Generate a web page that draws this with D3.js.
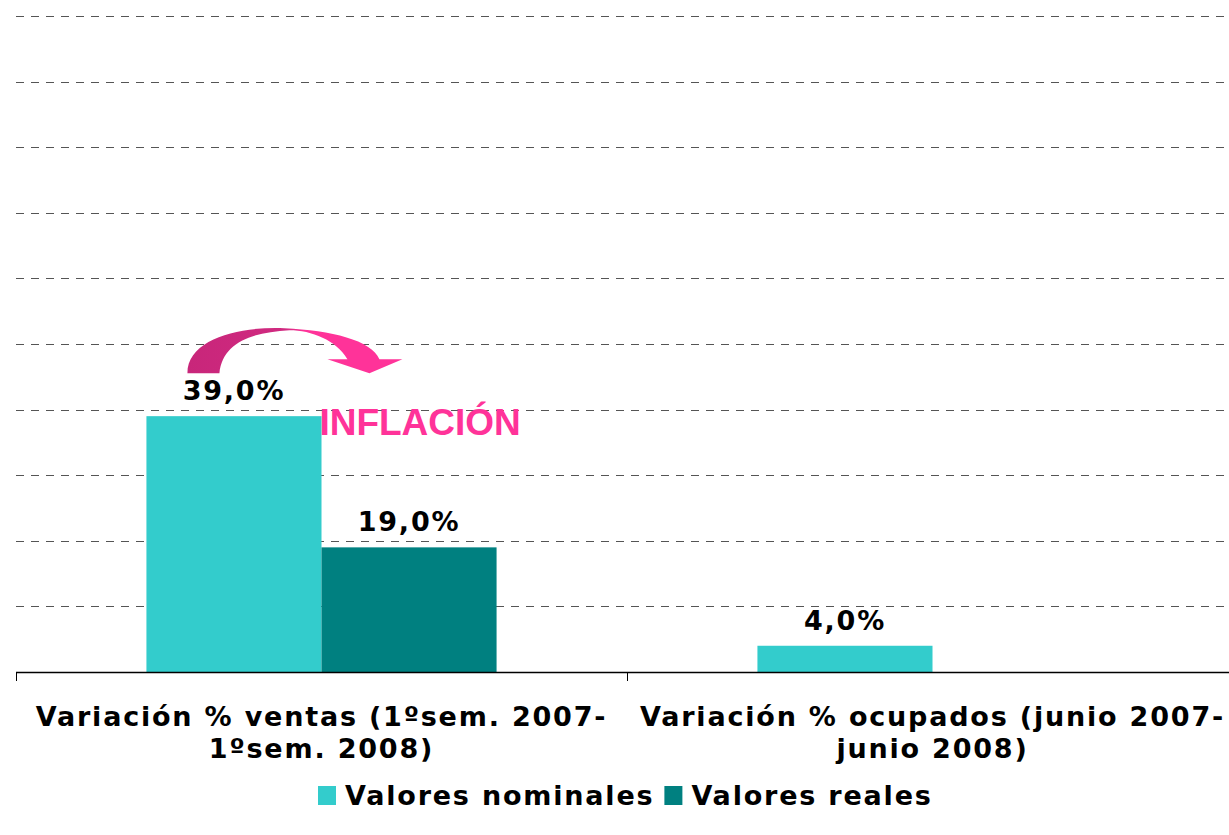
<!DOCTYPE html>
<html>
<head>
<meta charset="utf-8">
<script src="https://cdn.jsdelivr.net/npm/d3@7"></script>
<style>
  body { margin: 0; background: #fff; }
  svg { display: block; }
</style>
</head>
<body>
<div id="chart"></div>
<script>
// datos
const categorias = [
  ["Variación % ventas (1ºsem. 2007-", "1ºsem. 2008)"],
  ["Variación % ocupados (junio 2007-", "junio 2008)"]
];
const series = ["Valores nominales", "Valores reales"];
const nominales = [39.0, 4.0];
const reales = [19.0, null];
const colores = ["#33CCCC", "#008080"];
const yTicks = [0, 10, 20, 30, 40, 50, 60, 70, 80, 90, 100];

const width = 1229, height = 835;
const margin = { top: 16, right: -9, bottom: 163, left: 16 };
const fuente = "'DejaVu Sans', Verdana, sans-serif";
const tamTexto = "27px";
const espaciado = "1.8px";

const svg = d3.select("#chart").append("svg")
  .attr("width", width)
  .attr("height", height);

const x0 = d3.scaleBand()
  .domain(d3.range(categorias.length))
  .range([margin.left, width - margin.right])
  .padding(0);

const x1 = d3.scaleBand()
  .domain(series)
  .range([0, x0.bandwidth()])
  .paddingInner(0)
  .paddingOuter(0.745);

const y = d3.scaleLinear()
  .domain([0, 100])
  .range([height - margin.bottom, margin.top]);

// líneas de división
svg.append("g")
  .selectAll("line")
  .data(yTicks.filter(d => d > 0))
  .enter().append("line")
  .attr("x1", margin.left)
  .attr("x2", width)
  .attr("y1", d => Math.round(y(d)) + 0.5)
  .attr("y2", d => Math.round(y(d)) + 0.5)
  .attr("stroke", "#555")
  .attr("stroke-width", 1)
  .attr("stroke-dasharray", "8,7");

// barras
const filas = categorias.map((c, i) => ({ i: i, valores: [nominales[i], reales[i]] }));

const grupos = svg.append("g")
  .selectAll("g")
  .data(filas)
  .enter().append("g")
  .attr("transform", d => "translate(" + x0(d.i) + ",0)");

grupos.selectAll("rect")
  .data(d => d.valores.map((v, k) => ({ serie: series[k], v: v, k: k })).filter(d => d.v != null))
  .enter().append("rect")
  .attr("x", d => x1(d.serie))
  .attr("width", x1.bandwidth())
  .attr("y", d => y(d.v))
  .attr("height", d => y(0) - y(d.v))
  .attr("fill", d => colores[d.k]);

grupos.selectAll("text.valor")
  .data(d => d.valores.map((v, k) => ({ serie: series[k], v: v, k: k })).filter(d => d.v != null))
  .enter().append("text")
  .attr("class", "valor")
  .attr("x", d => x1(d.serie) + x1.bandwidth() / 2)
  .attr("y", d => y(d.v) - 16)
  .attr("text-anchor", "middle")
  .attr("font-family", fuente)
  .attr("font-weight", "bold")
  .attr("font-size", tamTexto)
  .attr("letter-spacing", espaciado)
  .attr("fill", "#000")
  .text(d => d.v.toFixed(1).replace(".", ",") + "%");

// eje x
const eje = svg.append("g");
eje.append("line")
  .attr("x1", margin.left)
  .attr("x2", width)
  .attr("y1", y(0) + 0.5)
  .attr("y2", y(0) + 0.5)
  .attr("stroke", "#000")
  .attr("stroke-width", 1.5);

eje.selectAll("line.tick")
  .data(d3.range(categorias.length + 1))
  .enter().append("line")
  .attr("class", "tick")
  .attr("x1", d => margin.left + d * x0.bandwidth() + 0.5)
  .attr("x2", d => margin.left + d * x0.bandwidth() + 0.5)
  .attr("y1", y(0))
  .attr("y2", y(0) + 9)
  .attr("stroke", "#000")
  .attr("stroke-width", 1);

const etiquetas = eje.selectAll("text.cat")
  .data(categorias)
  .enter().append("text")
  .attr("class", "cat")
  .attr("text-anchor", "middle")
  .attr("font-family", fuente)
  .attr("font-weight", "bold")
  .attr("font-size", tamTexto)
  .attr("letter-spacing", espaciado)
  .attr("fill", "#000");

etiquetas.selectAll("tspan")
  .data((d, i) => d.map(t => ({ t: t, i: i })))
  .enter().append("tspan")
  .attr("x", d => x0(d.i) + x0.bandwidth() / 2)
  .attr("y", (d, j) => y(0) + 54 + j * 32)
  .text(d => d.t);

// flecha de inflación
const defs = svg.append("defs");
const grad = defs.append("linearGradient")
  .attr("id", "gradFlecha")
  .attr("x1", "0%").attr("x2", "100%")
  .attr("y1", "0%").attr("y2", "0%");
grad.append("stop").attr("offset", "0%").attr("stop-color", "#C8267A");
grad.append("stop").attr("offset", "45%").attr("stop-color", "#D02A80");
grad.append("stop").attr("offset", "55%").attr("stop-color", "#FF3399");
grad.append("stop").attr("offset", "100%").attr("stop-color", "#FF3399");

const bx = x0(0) + x1(series[0]);
const by = y(nominales[0]);
const flecha = d3.path();
flecha.moveTo(bx + 41, by - 43);
flecha.bezierCurveTo(bx + 41, by - 78, bx + 95, by - 90, bx + 138, by - 88);
flecha.bezierCurveTo(bx + 185, by - 86, bx + 225, by - 76, bx + 233, by - 57);
flecha.lineTo(bx + 256, by - 57);
flecha.lineTo(bx + 223, by - 43);
flecha.lineTo(bx + 181, by - 57);
flecha.lineTo(bx + 201, by - 57);
flecha.bezierCurveTo(bx + 190, by - 76, bx + 165, by - 86, bx + 143, by - 86);
flecha.bezierCurveTo(bx + 105, by - 84, bx + 76, by - 73, bx + 73, by - 43);
flecha.closePath();

svg.append("path")
  .attr("d", flecha.toString())
  .attr("fill", "url(#gradFlecha)");

svg.append("text")
  .attr("x", bx + 173)
  .attr("y", by + 19)
  .attr("font-family", "'Liberation Sans', Arial, sans-serif")
  .attr("font-weight", "bold")
  .attr("font-size", "37px")
  .attr("fill", "#FF3399")
  .text("INFLACIÓN");

// leyenda
const leyenda = svg.append("g")
  .attr("transform", "translate(318," + (height - 49) + ")");

let lx = 0;
series.forEach(function(s, k) {
  const g = leyenda.append("g").attr("transform", "translate(" + lx + ",0)");
  g.append("rect")
    .attr("width", 18)
    .attr("height", 19)
    .attr("fill", colores[k]);
  const t = g.append("text")
    .attr("x", 27)
    .attr("y", 19)
    .attr("font-family", fuente)
    .attr("font-weight", "bold")
    .attr("font-size", tamTexto)
    .attr("letter-spacing", espaciado)
    .attr("fill", "#000")
    .text(s);
  lx += 27 + t.node().getComputedTextLength() + 10;
});
</script>
</body>
</html>
